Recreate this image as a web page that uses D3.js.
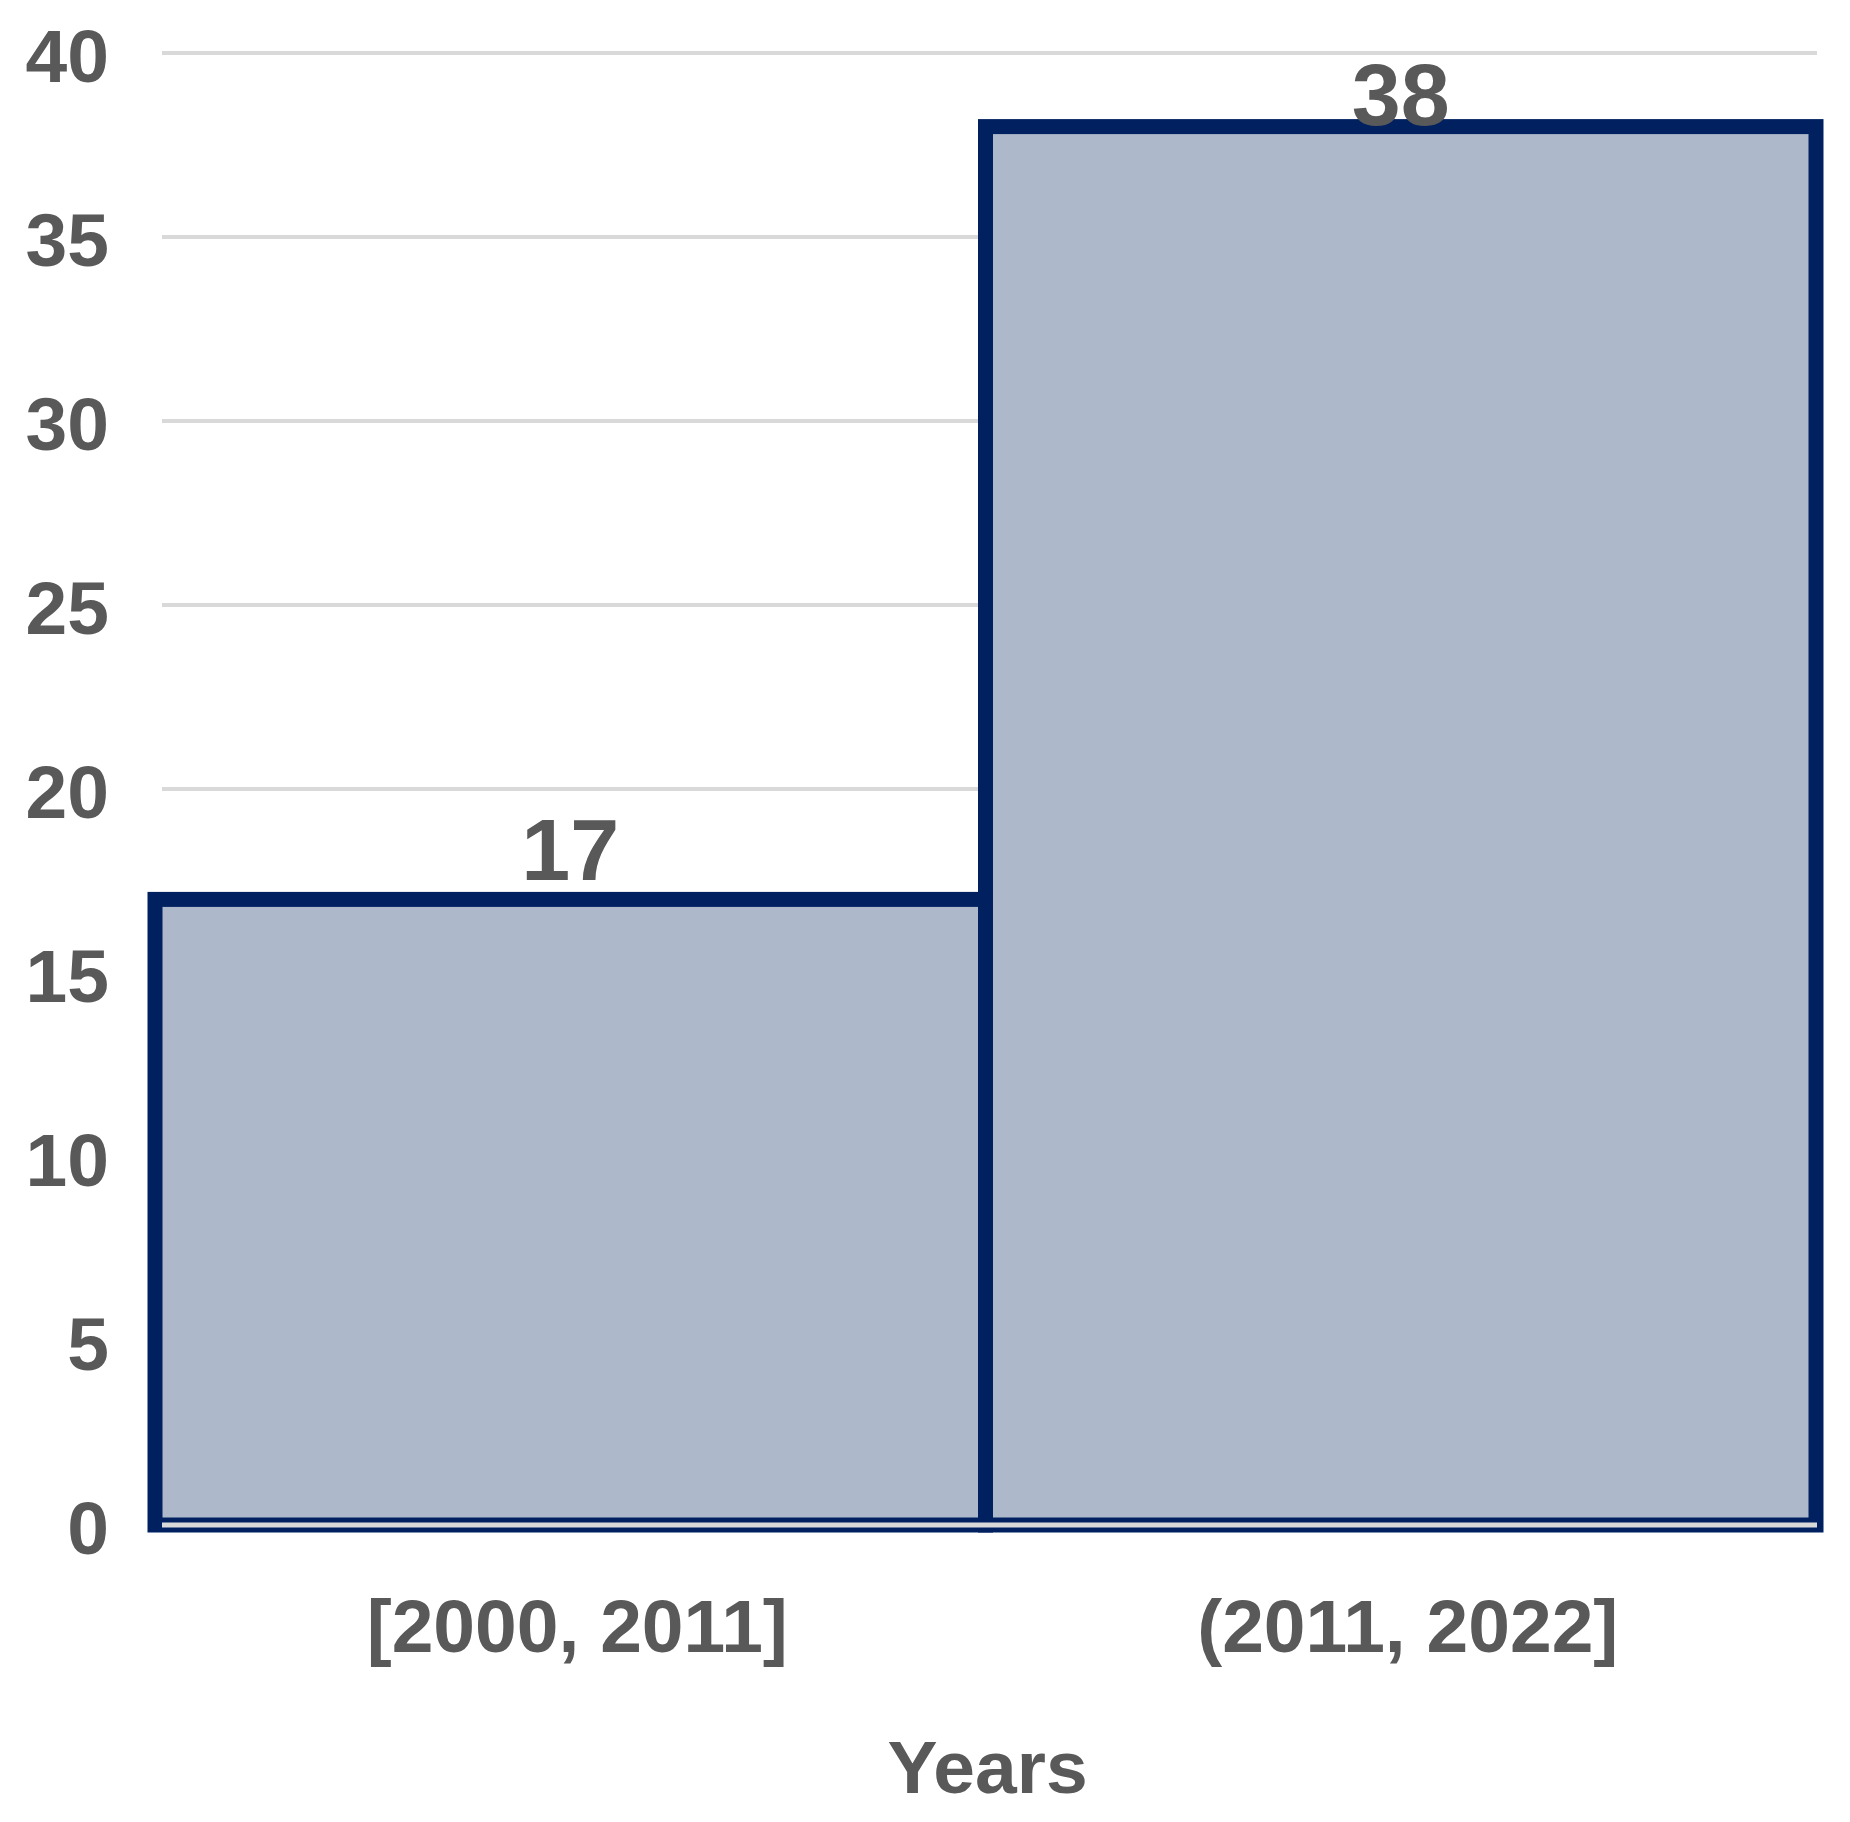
<!DOCTYPE html>
<html>
<head>
<meta charset="utf-8">
<script src="https://cdn.jsdelivr.net/npm/d3@7"></script>
<style>
  html, body { margin: 0; padding: 0; background: #ffffff; }
  svg { display: block; }
</style>
</head>
<body>
<svg id="chart" width="1850" height="1822"></svg>
<script>
// ---- data ----
const categories = ["[2000, 2011]", "(2011, 2022]"];
const values = [17, 38];
const yTicks = [0, 5, 10, 15, 20, 25, 30, 35, 40];
const xTitle = "Years";

// ---- layout ----
const plotLeft = 155, plotRight = 1816, plotTop = 53, plotBottom = 1525;
const fontFam = "'Liberation Sans', Arial, Helvetica, sans-serif";
const textColor = "#595959";

const svg = d3.select("#chart");

const x = d3.scaleBand().domain(categories).range([plotLeft, plotRight]).padding(0);
const y = d3.scaleLinear().domain([0, 40]).range([plotBottom, plotTop]);

// gridlines
svg.append("g").selectAll("line")
  .data(yTicks.filter(d => d !== 0))
  .join("line")
  .attr("x1", plotLeft + 7).attr("x2", plotRight + 1)
  .attr("y1", d => y(d)).attr("y2", d => y(d))
  .attr("stroke", "#d9d9d9").attr("stroke-width", 4);

// y axis labels
const yAxis = d3.axisLeft(y).tickValues(yTicks).tickSize(0).tickPadding(46);
const gy = svg.append("g").attr("transform", `translate(${plotLeft},0)`).call(yAxis);
gy.select(".domain").remove();
gy.selectAll("text")
  .attr("font-family", fontFam).attr("font-weight", "bold")
  .attr("font-size", 75).attr("fill", textColor)
  .attr("dy", "0.38em");

// bars
svg.append("g").selectAll("rect")
  .data(values)
  .join("rect")
  .attr("x", (d, i) => x(categories[i]))
  .attr("width", x.bandwidth())
  .attr("y", d => y(d))
  .attr("height", d => y(0) - y(d))
  .attr("fill", "#adb9ca")
  .attr("stroke", "#002060")
  .attr("stroke-width", 15);

// baseline axis line over bars
svg.append("line")
  .attr("x1", plotLeft + 7).attr("x2", plotRight + 1)
  .attr("y1", y(0)).attr("y2", y(0))
  .attr("stroke", "#d9d9d9").attr("stroke-width", 5);

// data labels
svg.append("g").selectAll("text")
  .data(values)
  .join("text")
  .attr("x", (d, i) => x(categories[i]) + x.bandwidth() / 2)
  .attr("y", d => Math.max(y(d) - 19.5, y(40) + 72))
  .attr("text-anchor", "middle")
  .attr("font-family", fontFam).attr("font-weight", "bold")
  .attr("font-size", 88).attr("fill", textColor)
  .text(d => d);

// category labels
svg.append("g").selectAll("text")
  .data(categories)
  .join("text")
  .attr("x", d => x(d) + x.bandwidth() / 2 + 7)
  .attr("y", y(0) + 127)
  .attr("text-anchor", "middle")
  .attr("font-family", fontFam).attr("font-weight", "bold")
  .attr("font-size", 75).attr("fill", textColor)
  .text(d => d);

// axis title
svg.append("text")
  .attr("x", (plotLeft + plotRight) / 2 + 2)
  .attr("y", 1793)
  .attr("text-anchor", "middle")
  .attr("font-family", fontFam).attr("font-weight", "bold")
  .attr("font-size", 75).attr("fill", textColor)
  .text(xTitle);
</script>
</body>
</html>
